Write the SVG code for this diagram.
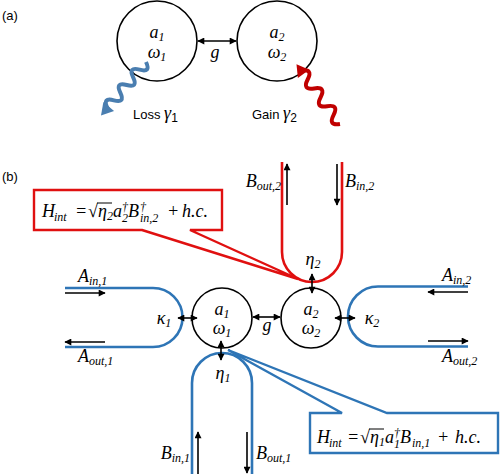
<svg xmlns="http://www.w3.org/2000/svg" width="500" height="474" viewBox="0 0 500 474">
<defs>
<marker id="ah" viewBox="0 0 10 10" refX="9" refY="5" markerWidth="8" markerHeight="7" markerUnits="userSpaceOnUse" orient="auto-start-reverse"><path d="M0,0 L10,5 L0,10 z" fill="#000"/></marker>
</defs>
<style>
.m{font-family:"Liberation Serif","DejaVu Serif",serif;font-style:italic;font-size:18px;fill:#000}
.e{font-family:"Liberation Serif","DejaVu Serif",serif;font-style:italic;font-size:18px;fill:#000}
.es{font-family:"Liberation Serif","DejaVu Serif",serif;font-style:italic;font-size:12px;fill:#000}
.s{font-family:"Liberation Sans","Open Sans",sans-serif;font-size:13px;fill:#000}
.c{fill:#fff;stroke:#000;stroke-width:1.6}
.ar{stroke:#000;stroke-width:1.6;fill:none;marker-end:url(#ah)}
.dar{stroke:#000;stroke-width:1.6;fill:none;marker-end:url(#ah);marker-start:url(#ah)}
.blue{stroke:#2e75b6;stroke-width:2.6;fill:none}
.red{stroke:#e01010;stroke-width:2.6;fill:none}
.sub{font-size:12px}
</style>
<rect width="500" height="474" fill="#fff"/>

<!-- panel a -->
<text class="s" x="2" y="20" font-size="14">(a)</text>
<g id="a1">
<circle class="c" cx="157" cy="41" r="40"/>
<text class="m" x="157" y="38" text-anchor="middle">a<tspan class="sub" dy="3">1</tspan></text>
<text class="m" x="157" y="58" text-anchor="middle">ω<tspan class="sub" dy="3">1</tspan></text>
</g>
<g id="a2">
<circle class="c" cx="277" cy="41" r="40"/>
<text class="m" x="277" y="38" text-anchor="middle">a<tspan class="sub" dy="3">2</tspan></text>
<text class="m" x="277" y="58" text-anchor="middle">ω<tspan class="sub" dy="3">2</tspan></text>
</g>
<g id="loss">
<g transform="translate(146,62) rotate(130)">
<path d="M0,0 q5,-11 10,0 q5,11 10,0 q5,-11 10,0 q5,11 10,0 q5,-11 10,0 q5,11 10,0 L62,0" stroke="#4a7eb0" stroke-width="4" fill="none"/>
<polygon points="58,-7 70,0 58,7" fill="#4a7eb0"/>
</g>
<text class="s" x="133" y="119">Loss <tspan class="m" font-size="16">γ</tspan><tspan class="sub" dy="3">1</tspan></text>
</g>
<g id="gain">
<g transform="translate(340,124) rotate(-126)">
<path d="M0,0 q5.5,-11 11,0 q5.5,11 11,0 q5.5,-11 11,0 q5.5,11 11,0 q5.5,-11 11,0 q5.5,11 11,0 L66,0" stroke="#c00000" stroke-width="4" fill="none"/>
<polygon points="62,-7 74,0 62,7" fill="#c00000"/>
</g>
<text class="s" x="252" y="119">Gain <tspan class="m" font-size="16">γ</tspan><tspan class="sub" dy="3">2</tspan></text>
</g>
<g id="conn-a">
<line class="dar" x1="198" y1="41" x2="236" y2="41"/>
<text class="m" x="215" y="58" text-anchor="middle">g</text>
</g>

<!-- panel b -->
<text class="s" x="2" y="181" font-size="14">(b)</text>

<g id="wg-red">
<path class="red" d="M282,162 V252 A30,30 0 0 0 342,252 V162"/>
<line class="ar" x1="287" y1="205" x2="287" y2="164"/>
<line class="ar" x1="337" y1="164" x2="337" y2="205"/>
<text class="m" x="281" y="187" text-anchor="end">B<tspan class="sub" dy="3">out,2</tspan></text>
<text class="m" x="345" y="187">B<tspan class="sub" dy="3">in,2</tspan></text>
</g>

<g id="wg-left">
<path class="blue" d="M65,288 H153 A29.5,29.5 0 0 1 153,347 H65"/>
<line class="ar" x1="65" y1="293" x2="105" y2="293"/>
<line class="ar" x1="105" y1="342" x2="65" y2="342"/>
<text class="m" x="78" y="282">A<tspan class="sub" dy="3">in,1</tspan></text>
<text class="m" x="78" y="362">A<tspan class="sub" dy="3">out,1</tspan></text>
</g>

<g id="wg-right">
<path class="blue" d="M468,286.5 H378 A30,30 0 0 0 378,346.5 H468"/>
<line class="ar" x1="468" y1="292" x2="428" y2="292"/>
<line class="ar" x1="428" y1="341" x2="468" y2="341"/>
<text class="m" x="442" y="281">A<tspan class="sub" dy="3">in,2</tspan></text>
<text class="m" x="442" y="362">A<tspan class="sub" dy="3">out,2</tspan></text>
</g>

<g id="wg-bottom">
<path class="blue" d="M192,474 V383 A30,30 0 0 1 252,383 V474"/>
<line class="ar" x1="198" y1="474" x2="198" y2="432"/>
<line class="ar" x1="247" y1="432" x2="247" y2="473"/>
<text class="m" x="190" y="459" text-anchor="end">B<tspan class="sub" dy="3">in,1</tspan></text>
<text class="m" x="256" y="459">B<tspan class="sub" dy="3">out,1</tspan></text>
</g>

<g id="b1">
<circle class="c" cx="222" cy="318" r="30"/>
<text class="m" x="222" y="315" text-anchor="middle">a<tspan class="sub" dy="3">1</tspan></text>
<text class="m" x="222" y="334" text-anchor="middle">ω<tspan class="sub" dy="3">1</tspan></text>
</g>
<g id="b2">
<circle class="c" cx="311" cy="318" r="30"/>
<text class="m" x="311" y="315" text-anchor="middle">a<tspan class="sub" dy="3">2</tspan></text>
<text class="m" x="311" y="334" text-anchor="middle">ω<tspan class="sub" dy="3">2</tspan></text>
</g>

<g id="connectors">
<line class="dar" x1="253" y1="317" x2="280" y2="317"/>
<text class="m" x="267" y="331" text-anchor="middle">g</text>
<line class="dar" x1="178" y1="318" x2="197" y2="318"/>
<text class="m" x="164" y="324" text-anchor="middle">κ<tspan class="sub" dy="3">1</tspan></text>
<line class="dar" x1="335" y1="318" x2="355" y2="318"/>
<text class="m" x="372" y="324" text-anchor="middle">κ<tspan class="sub" dy="3">2</tspan></text>
<line class="dar" x1="312" y1="274" x2="312" y2="293"/>
<text class="m" x="313" y="265" text-anchor="middle">η<tspan class="sub" dy="3">2</tspan></text>
<line class="dar" x1="221" y1="341" x2="221" y2="360"/>
<text class="m" x="223" y="379" text-anchor="middle">η<tspan class="sub" dy="3">1</tspan></text>
</g>

<g id="callout-red">
<rect x="34" y="190" width="188" height="40" fill="#fff"/>
<path d="M142,230 L298,279 L190,230 H222 V190 H34 V230 Z" fill="none" stroke="#e01010" stroke-width="2.4"/>
<text class="e" x="42" y="217">H</text>
<text class="es" x="54" y="221">int</text>
<text class="e" x="75" y="217" font-style="normal">=</text>
<text class="e" x="88" y="217" font-style="normal">√</text>
<line x1="97" y1="203" x2="112" y2="203" stroke="#000" stroke-width="1"/>
<text class="e" x="98" y="217">η</text>
<text class="es" x="107" y="220" font-style="normal">2</text>
<text class="e" x="113" y="217">a</text>
<text class="es" x="122" y="211" font-style="normal">†</text>
<text class="es" x="122" y="222" font-style="normal">2</text>
<text class="e" x="128" y="217">B</text>
<text class="es" x="140" y="211" font-style="normal">†</text>
<text class="es" x="140" y="222">in,2</text>
<text class="e" x="167" y="217" font-style="normal">+</text>
<text class="e" x="182" y="217">h.c.</text>
</g>

<g id="callout-blue">
<rect x="310" y="413" width="188" height="40" fill="#fff"/>
<path d="M342,413 L228,350 L387,413 H498 V453 H310 V413 Z" fill="none" stroke="#2e75b6" stroke-width="2.4"/>
<text class="e" x="317" y="443">H</text>
<text class="es" x="329" y="447">int</text>
<text class="e" x="347" y="443" font-style="normal">=</text>
<text class="e" x="360" y="443" font-style="normal">√</text>
<line x1="369" y1="429" x2="384" y2="429" stroke="#000" stroke-width="1"/>
<text class="e" x="370" y="443">η</text>
<text class="es" x="379" y="446" font-style="normal">1</text>
<text class="e" x="385" y="443">a</text>
<text class="es" x="394" y="437" font-style="normal">†</text>
<text class="es" x="394" y="448" font-style="normal">1</text>
<text class="e" x="400" y="443">B</text>
<text class="es" x="412" y="447">in,1</text>
<text class="e" x="437" y="443" font-style="normal">+</text>
<text class="e" x="455" y="443">h.c.</text>
</g>
</svg>
